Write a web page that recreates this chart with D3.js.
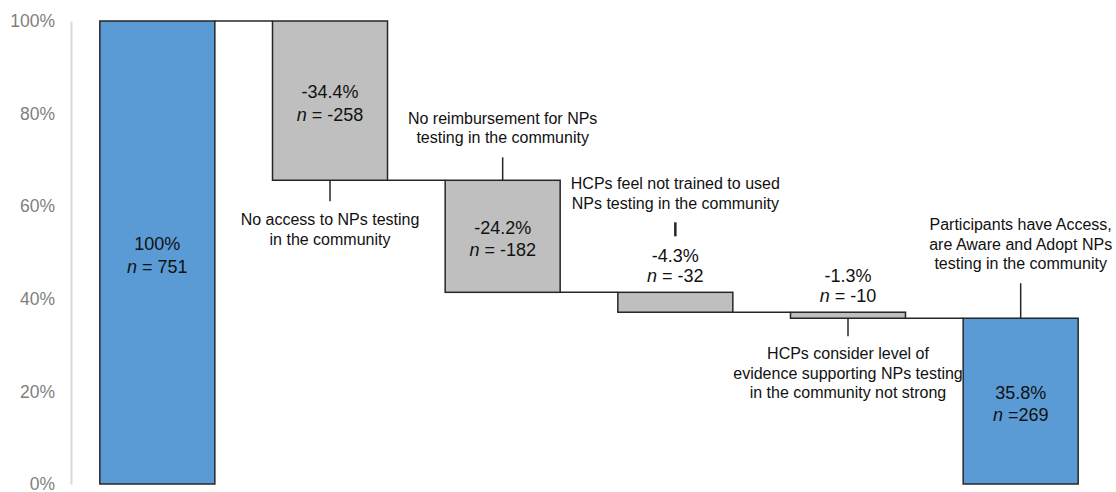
<!DOCTYPE html>
<html>
<head>
<meta charset="utf-8">
<script src="https://cdn.jsdelivr.net/npm/d3@7"></script>
<style>
  body { margin: 0; background: #fff; }
  svg { display: block; font-family: "Liberation Sans", Arial, sans-serif; }
</style>
</head>
<body>
<svg id="chart" width="1116" height="492"></svg>
<script>
/************** Data **************/
const categories = ["Total", "No access", "No reimbursement", "Not trained", "Evidence", "Adopt"];
const pctValues  = [100, -34.4, -24.2, -4.3, -1.3, 35.8];
const nValues    = [751, -258, -182, -32, -10, 269];
const isTotal    = [true, false, false, false, false, true];
const yTicks     = [0, 20, 40, 60, 80, 100];

const annotationTexts = [
  null,
  ["No access to NPs testing", "in the community"],
  ["No reimbursement for NPs", "testing in the community"],
  ["HCPs feel not trained to used", "NPs testing in the community"],
  ["HCPs consider level of", "evidence supporting NPs testing", "in the community not strong"],
  ["Participants have Access,", "are Aware and Adopt NPs", "testing in the community"]
];

/************** Layout **************/
const blue = "#5b9bd5", gray = "#bfbfbf", edge = "#262626";
const svg = d3.select("#chart");

// running totals -> start / end of each bar
let running = 0;
const bars = categories.map((c, i) => {
  let start, end;
  if (isTotal[i]) { start = 0; end = pctValues[i]; running = end; }
  else { start = running; end = running + pctValues[i]; running = end; }
  return { cat: c, i, pct: pctValues[i], n: nValues[i], lo: Math.min(start, end), hi: Math.max(start, end), end, total: isTotal[i] };
});

const x = d3.scaleBand().domain(categories).range([71, 1107]).paddingInner(0.334).paddingOuter(0.167);
const y = d3.scaleLinear().domain([0, 100]).range([484, 21]);
const bw = x.bandwidth();

/************** Y axis **************/
const yAxis = svg.append("g")
  .attr("transform", "translate(71,0)")
  .call(d3.axisLeft(y).tickValues(yTicks).tickSize(0).tickPadding(16).tickFormat(d => d + "%"));
yAxis.select(".domain").attr("stroke", "#d9d9d9").attr("stroke-width", 2);
yAxis.selectAll("text").attr("fill", "#7f7f7f").style("font-size", "17.5px")
  .style("font-family", "'Liberation Sans', Arial, sans-serif");

/************** Connectors **************/
svg.append("g").selectAll("line")
  .data(bars.slice(0, -1))
  .join("line")
    .attr("x1", d => x(d.cat) + bw)
    .attr("x2", d => x(categories[d.i + 1]))
    .attr("y1", d => y(d.end)).attr("y2", d => y(d.end))
    .attr("stroke", edge).attr("stroke-width", 1.5);

/************** Bars **************/
svg.append("g").selectAll("rect")
  .data(bars)
  .join("rect")
    .attr("x", d => x(d.cat))
    .attr("y", d => y(d.hi))
    .attr("width", bw)
    .attr("height", d => y(d.lo) - y(d.hi))
    .attr("fill", d => d.total ? blue : gray)
    .attr("stroke", edge).attr("stroke-width", 1.5);

/************** Value labels **************/
const valueLabel = (g, cx, y1, y2, d) => {
  g.append("text").attr("x", cx).attr("y", y1).attr("text-anchor", "middle")
    .attr("dominant-baseline", "middle").style("font-size", "18px").attr("fill", "#111")
    .text(d.pct + "%");
  const t = g.append("text").attr("x", cx).attr("y", y2).attr("text-anchor", "middle")
    .attr("dominant-baseline", "middle").style("font-size", "18px").attr("fill", "#111");
  t.append("tspan").style("font-style", "italic").text("n");
  t.append("tspan").text((d.i === bars.length - 1 ? " =" : " = ") + d.n);
};

const labels = svg.append("g");
bars.forEach(d => {
  const cx = x(d.cat) + bw / 2;
  const top = y(d.hi), bot = y(d.lo);
  if (bot - top > 60) {
    const mid = (top + bot) / 2;
    valueLabel(labels, cx, mid - 7, mid + 15, d);
  } else {
    valueLabel(labels, cx, top - 35, top - 15, d);
  }
});

/************** Annotations **************/
// per-bar placement: side, leader offset/length, gap between leader and text
const annLayout = {
  1: { side: "below", from: 0,  len: 21, gap: 20 },
  2: { side: "above", from: 0,  len: 23, gap: 18 },
  3: { side: "above", from: 56, len: 14, gap: 18 },
  4: { side: "below", from: 0,  len: 18, gap: 19 },
  5: { side: "above", from: 0,  len: 35, gap: 18 }
};
const lineH = 19.5;
const ann = svg.append("g");
bars.forEach(d => {
  const lines = annotationTexts[d.i];
  if (!lines) return;
  const L = annLayout[d.i];
  const cx = x(d.cat) + bw / 2;
  let y0, y1, firstLine;
  if (L.side === "below") {
    y0 = y(d.lo) + L.from; y1 = y0 + L.len;
    firstLine = y1 + L.gap;
  } else {
    y0 = y(d.hi) - L.from; y1 = y0 - L.len;
    firstLine = y1 - L.gap - (lines.length - 1) * lineH;
  }
  ann.append("line").attr("x1", cx).attr("x2", cx).attr("y1", y0).attr("y2", y1)
    .attr("stroke", edge).attr("stroke-width", d.i === 3 ? 2.5 : 1.5);
  ann.append("g").selectAll("text")
    .data(lines)
    .join("text")
      .attr("x", cx)
      .attr("y", (s, k) => firstLine + k * lineH)
      .attr("text-anchor", "middle")
      .attr("dominant-baseline", "middle")
      .style("font-size", "16px")
      .attr("fill", "#111")
      .text(s => s);
});
</script>
</body>
</html>
